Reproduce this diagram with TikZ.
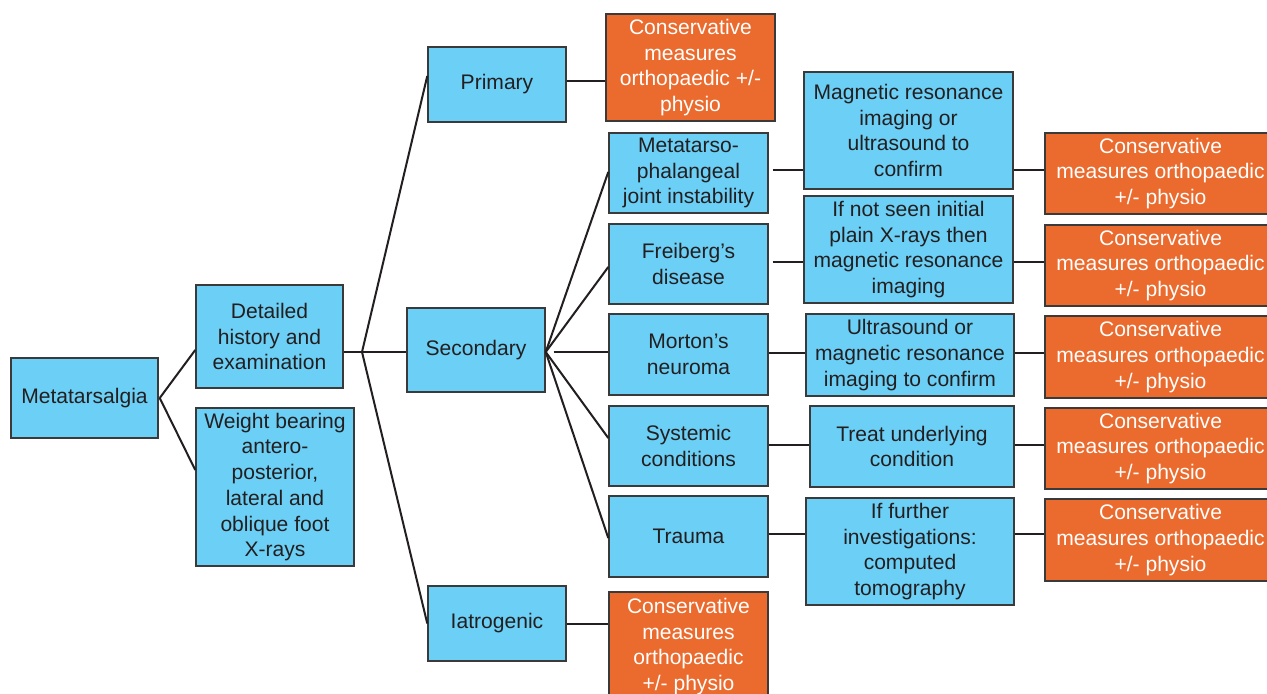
\documentclass[tikz,border=0pt]{standalone}
\usepackage{fontspec}
\setmainfont{Liberation Sans}
\usetikzlibrary{calc}
\definecolor{boxblue}{HTML}{6BCFF6}
\definecolor{boxorange}{HTML}{EB6B2E}
\definecolor{edgegray}{HTML}{3A3A3A}
\definecolor{txt}{HTML}{231F20}
\tikzset{
  bbox/.style={draw=edgegray, line width=1.1pt, fill=boxblue, text=txt, align=center, inner sep=0pt,
    font=\fontsize{15.8}{19.3}\selectfont},
  obox/.style={draw=edgegray, line width=1.1pt, fill=boxorange, text=white, align=center, inner sep=0pt,
    font=\fontsize{15.8}{19.3}\selectfont},
  wh/.style 2 args={minimum width=#1*0.75pt, minimum height=#2*0.75pt},
  conn/.style={draw=txt, line width=1.5pt}
}
\begin{document}
\begin{tikzpicture}[x=0.75pt, y=-0.75pt]
\useasboundingbox (0,0) rectangle (1267,693);
\clip (0,0) rectangle (1267,693);
\fill[white] (0,0) rectangle (1267,693);

% column 1-2
\node[bbox, wh={147}{80}] (meta) at (84.5,398) {Metatarsalgia};
\node[bbox, wh={147}{103}] (det) at (269.5,336.5) {Detailed\\history and\\examination};
\node[bbox, wh={158}{158}] (wb) at (275,487) {Weight bearing\\antero-\\posterior,\\lateral and\\oblique foot\\X-rays};

% column 3
\node[bbox, wh={138}{75}] (prim) at (497,84.5) {Primary};
\node[bbox, wh={138}{84}] (sec) at (476,350) {Secondary};
\node[bbox, wh={138}{75}] (iat) at (497,623.5) {Iatrogenic};

\node[obox, wh={169}{107}] (o0) at (690.5,67.5) {Conservative\\measures\\orthopaedic +/-\\physio};
\node[obox, wh={159}{109}] (oi) at (688.5,646.5) {Conservative\\measures\\orthopaedic\\+/- physio};

% column 4
\node[bbox, wh={159}{80}] (mtp) at (688.5,173) {Metatarso-\\phalangeal\\joint instability};
\node[bbox, wh={159}{80}] (fre) at (688.5,264) {Freiberg’s\\disease};
\node[bbox, wh={159}{81}] (mor) at (688.5,354.5) {Morton’s\\neuroma};
\node[bbox, wh={159}{80}] (sys) at (688.5,446) {Systemic\\conditions};
\node[bbox, wh={159}{81}] (tra) at (688.5,536.5) {Trauma};

% column 5
\node[bbox, wh={209}{117}] (mri) at (908.5,130.5) {Magnetic resonance\\imaging or\\ultrasound to\\confirm};
\node[bbox, wh={209}{107}] (ifn) at (908.5,249.5) {If not seen initial\\plain X-rays then\\magnetic resonance\\imaging};
\node[bbox, wh={208}{82}] (us) at (910,355) {Ultrasound or\\magnetic resonance\\imaging to confirm};
\node[bbox, wh={204}{81}] (tre) at (912,446.5) {Treat underlying\\condition};
\node[bbox, wh={208}{107}] (iff) at (910,551.5) {If further\\investigations:\\computed\\tomography};

% column 6
\node[obox, wh={231}{81}] (or1) at (1160.5,173.5) {Conservative\\measures orthopaedic\\+/- physio};
\node[obox, wh={231}{81}] (or2) at (1160.5,265.5) {Conservative\\measures orthopaedic\\+/- physio};
\node[obox, wh={231}{82}] (or3) at (1160.5,357) {Conservative\\measures orthopaedic\\+/- physio};
\node[obox, wh={231}{81}] (or4) at (1160.5,448.5) {Conservative\\measures orthopaedic\\+/- physio};
\node[obox, wh={231}{82}] (or5) at (1160.5,540) {Conservative\\measures orthopaedic\\+/- physio};

% connectors
\coordinate (br) at (362,352);
\coordinate (sf) at ($(sec.east)+(0,2)$);
\draw[conn] ($(meta.east)+(1,0)$) -- ($(det.west)+(0,13.5)$);
\draw[conn] ($(meta.east)+(1,0)$) -- ($(wb.west)+(0,-17)$);
\draw[conn] ($(det.east)+(0,15.5)$) -- (br);
\draw[conn] (br) -- ($(prim.west)+(0,-8.5)$);
\draw[conn] (br) -- (br -| sec.west);
\draw[conn] (br) -- (iat.west);
\draw[conn] ($(prim.east)+(0,-3.5)$) -- ($(prim.east -| o0.west)+(0,-3.5)$);
\draw[conn] (iat.east) -- (iat.east -| oi.west);

\draw[conn] (sf) -- ($(mtp.west)+(0,-1)$);
\draw[conn] (sf) -- ($(fre.west)+(0,3)$);
\draw[conn] ($(sf)+(8,0)$) -- (sf -| mor.west);
\draw[conn] (sf) -- ($(sys.west)+(0,-8)$);
\draw[conn] (sf) -- ($(tra.west)+(0,1.5)$);

\draw[conn] ($(mtp.east)+(4,-3)$) -- ($(mtp.east -| mri.west)+(0,-3)$);
\draw[conn] ($(mtp.east -| mri.east)+(0,-3)$) -- ($(mtp.east -| or1.west)+(0,-3)$);
\draw[conn] ($(fre.east)+(4,-2)$) -- ($(fre.east -| ifn.west)+(0,-2)$);
\draw[conn] ($(fre.east -| ifn.east)+(0,-2)$) -- ($(fre.east -| or2.west)+(0,-2)$);
\draw[conn] ($(mor.east)+(0,-2)$) -- ($(mor.east -| us.west)+(0,-2)$);
\draw[conn] ($(mor.east -| us.east)+(0,-2)$) -- ($(mor.east -| or3.west)+(0,-2)$);
\draw[conn] ($(sys.east)+(0,-1)$) -- ($(sys.east -| tre.west)+(0,-1)$);
\draw[conn] ($(sys.east -| tre.east)+(0,-1)$) -- ($(sys.east -| or4.west)+(0,-1)$);
\draw[conn] ($(tra.east)+(0,-3)$) -- ($(tra.east -| iff.west)+(0,-3)$);
\draw[conn] ($(tra.east -| iff.east)+(0,-3)$) -- ($(tra.east -| or5.west)+(0,-3)$);
\end{tikzpicture}
\end{document}
